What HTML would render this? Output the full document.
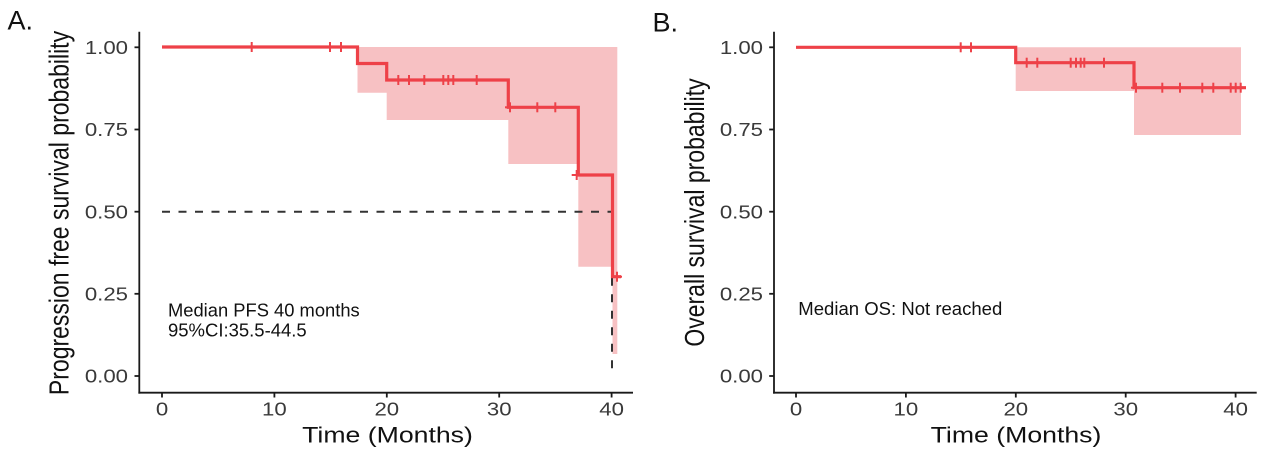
<!DOCTYPE html>
<html>
<head>
<meta charset="utf-8">
<style>
  html,body{margin:0;padding:0;background:#fff;}
  svg{display:block;}
  text{font-family:"Liberation Sans",Arial,sans-serif;}
</style>
</head>
<body>
<svg width="1266" height="457" viewBox="0 0 1266 457" xmlns="http://www.w3.org/2000/svg">
  <rect width="1266" height="457" fill="#fff"/>

  <!-- ================= Panel A ================= -->
  <text x="7.5" y="29.3" font-size="27" fill="#111">A.</text>

  <!-- CI band -->
  <path d="M357.5,47 H617.3 V354 H612.5 V266.7 H578.3 V164 H508.3 V120 H386.7 V92.7 H357.5 Z" fill="#f7c1c3"/>

  <!-- median dashed lines -->
  <g stroke="#333" stroke-width="2" stroke-dasharray="8 8.5" fill="none">
    <line x1="162" y1="211.7" x2="612" y2="211.7"/>
    <line x1="612" y1="211.7" x2="612" y2="376"/>
  </g>

  <!-- KM curve -->
  <path d="M162,47 H357.5 V63.5 H386.7 V80 H508.3 V107.3 H578.3 V175 H612.5 V276.7 H621" fill="none" stroke="#ee4148" stroke-width="3.2" stroke-linejoin="miter"/>

  <!-- censor marks A -->
  <g stroke="#ee4148" stroke-width="2">
    <line x1="251.7" y1="42" x2="251.7" y2="52"/>
    <line x1="330" y1="42" x2="330" y2="52"/>
    <line x1="341" y1="42" x2="341" y2="52"/>
    <line x1="398.3" y1="75" x2="398.3" y2="85"/>
    <line x1="409" y1="75" x2="409" y2="85"/>
    <line x1="424.3" y1="75" x2="424.3" y2="85"/>
    <line x1="443.3" y1="75" x2="443.3" y2="85"/>
    <line x1="448.3" y1="75" x2="448.3" y2="85"/>
    <line x1="453.3" y1="75" x2="453.3" y2="85"/>
    <line x1="476.7" y1="75" x2="476.7" y2="85"/>
    <line x1="510" y1="102.3" x2="510" y2="112.3"/>
    <line x1="505" y1="107.3" x2="515" y2="107.3"/>
    <line x1="537.3" y1="102.3" x2="537.3" y2="112.3"/>
    <line x1="555.3" y1="102.3" x2="555.3" y2="112.3"/>
    <line x1="576.7" y1="170" x2="576.7" y2="180"/>
    <line x1="571.7" y1="175" x2="581.7" y2="175"/>
    <line x1="617" y1="271.7" x2="617" y2="281.7"/>
    <line x1="612" y1="276.7" x2="622" y2="276.7"/>
  </g>

  <!-- axes A -->
  <g stroke="#1a1a1a" stroke-width="1.8" fill="none">
    <line x1="139.3" y1="31.7" x2="139.3" y2="393.6"/>
    <line x1="138.4" y1="392.7" x2="633" y2="392.7"/>
    <line x1="134.5" y1="47.3" x2="139.3" y2="47.3"/>
    <line x1="134.5" y1="129.5" x2="139.3" y2="129.5"/>
    <line x1="134.5" y1="211.7" x2="139.3" y2="211.7"/>
    <line x1="134.5" y1="293.8" x2="139.3" y2="293.8"/>
    <line x1="134.5" y1="376" x2="139.3" y2="376"/>
    <line x1="162" y1="392.7" x2="162" y2="397.5"/>
    <line x1="274.4" y1="392.7" x2="274.4" y2="397.5"/>
    <line x1="386.8" y1="392.7" x2="386.8" y2="397.5"/>
    <line x1="499.2" y1="392.7" x2="499.2" y2="397.5"/>
    <line x1="611.6" y1="392.7" x2="611.6" y2="397.5"/>
  </g>

  <!-- tick labels A -->
  <g font-size="18.5" fill="#3a3a3a">
    <text transform="translate(128,54) scale(1.2,1)" text-anchor="end">1.00</text>
    <text transform="translate(128,136.2) scale(1.2,1)" text-anchor="end">0.75</text>
    <text transform="translate(128,218.4) scale(1.2,1)" text-anchor="end">0.50</text>
    <text transform="translate(128,300.5) scale(1.2,1)" text-anchor="end">0.25</text>
    <text transform="translate(128,382.7) scale(1.2,1)" text-anchor="end">0.00</text>
    <text transform="translate(162,415.7) scale(1.2,1)" text-anchor="middle">0</text>
    <text transform="translate(274.4,415.7) scale(1.2,1)" text-anchor="middle">10</text>
    <text transform="translate(386.8,415.7) scale(1.2,1)" text-anchor="middle">20</text>
    <text transform="translate(499.2,415.7) scale(1.2,1)" text-anchor="middle">30</text>
    <text transform="translate(611.6,415.7) scale(1.2,1)" text-anchor="middle">40</text>
  </g>

  <!-- axis titles A -->
  <text transform="translate(387.5,442.7) scale(1.19,1)" text-anchor="middle" font-size="22.4" fill="#111">Time (Months)</text>
  <text transform="translate(68.5,213) scale(1.19,1) rotate(-90)" text-anchor="middle" font-size="23" fill="#111">Progression free survival probability</text>

  <!-- annotation A -->
  <text x="168" y="316.7" font-size="18.5" fill="#111" textLength="191.7" lengthAdjust="spacingAndGlyphs">Median PFS 40 months</text>
  <text x="168" y="336.7" font-size="18.5" fill="#111" textLength="138.7" lengthAdjust="spacingAndGlyphs">95%CI:35.5-44.5</text>

  <!-- ================= Panel B ================= -->
  <text x="652.5" y="31.5" font-size="27" fill="#111">B.</text>

  <!-- CI band B -->
  <path d="M1015.7,47.3 H1241 V135 H1134 V91 H1015.7 Z" fill="#f7c1c3"/>

  <!-- KM curve B -->
  <path d="M796,47.3 H1015.7 V62.7 H1134 V87.7 H1246" fill="none" stroke="#ee4148" stroke-width="3.2"/>

  <!-- censor marks B -->
  <g stroke="#ee4148" stroke-width="2">
    <line x1="960.7" y1="42.3" x2="960.7" y2="52.3"/>
    <line x1="971" y1="42.3" x2="971" y2="52.3"/>
    <line x1="1026.7" y1="57.7" x2="1026.7" y2="67.7"/>
    <line x1="1037.3" y1="57.7" x2="1037.3" y2="67.7"/>
    <line x1="1070.7" y1="57.7" x2="1070.7" y2="67.7"/>
    <line x1="1076" y1="57.7" x2="1076" y2="67.7"/>
    <line x1="1080.7" y1="57.7" x2="1080.7" y2="67.7"/>
    <line x1="1084.3" y1="57.7" x2="1084.3" y2="67.7"/>
    <line x1="1104" y1="57.7" x2="1104" y2="67.7"/>
    <line x1="1136" y1="82.7" x2="1136" y2="92.7"/>
    <line x1="1131" y1="87.7" x2="1141" y2="87.7"/>
    <line x1="1162.3" y1="82.7" x2="1162.3" y2="92.7"/>
    <line x1="1180" y1="82.7" x2="1180" y2="92.7"/>
    <line x1="1202.3" y1="82.7" x2="1202.3" y2="92.7"/>
    <line x1="1213.3" y1="82.7" x2="1213.3" y2="92.7"/>
    <line x1="1230.7" y1="82.7" x2="1230.7" y2="92.7"/>
    <line x1="1235.7" y1="82.7" x2="1235.7" y2="92.7"/>
    <line x1="1240.7" y1="82.7" x2="1240.7" y2="92.7"/>
  </g>

  <!-- axes B -->
  <g stroke="#1a1a1a" stroke-width="1.8" fill="none">
    <line x1="774" y1="31.7" x2="774" y2="393.6"/>
    <line x1="773.1" y1="392.7" x2="1256.7" y2="392.7"/>
    <line x1="769.2" y1="47.3" x2="774" y2="47.3"/>
    <line x1="769.2" y1="129.5" x2="774" y2="129.5"/>
    <line x1="769.2" y1="211.7" x2="774" y2="211.7"/>
    <line x1="769.2" y1="293.8" x2="774" y2="293.8"/>
    <line x1="769.2" y1="376" x2="774" y2="376"/>
    <line x1="796" y1="392.7" x2="796" y2="397.5"/>
    <line x1="905.9" y1="392.7" x2="905.9" y2="397.5"/>
    <line x1="1015.8" y1="392.7" x2="1015.8" y2="397.5"/>
    <line x1="1125.7" y1="392.7" x2="1125.7" y2="397.5"/>
    <line x1="1235.6" y1="392.7" x2="1235.6" y2="397.5"/>
  </g>

  <!-- tick labels B -->
  <g font-size="18.5" fill="#3a3a3a">
    <text transform="translate(763,54) scale(1.2,1)" text-anchor="end">1.00</text>
    <text transform="translate(763,136.2) scale(1.2,1)" text-anchor="end">0.75</text>
    <text transform="translate(763,218.4) scale(1.2,1)" text-anchor="end">0.50</text>
    <text transform="translate(763,300.5) scale(1.2,1)" text-anchor="end">0.25</text>
    <text transform="translate(763,382.7) scale(1.2,1)" text-anchor="end">0.00</text>
    <text transform="translate(796,415.7) scale(1.2,1)" text-anchor="middle">0</text>
    <text transform="translate(905.9,415.7) scale(1.2,1)" text-anchor="middle">10</text>
    <text transform="translate(1015.8,415.7) scale(1.2,1)" text-anchor="middle">20</text>
    <text transform="translate(1125.7,415.7) scale(1.2,1)" text-anchor="middle">30</text>
    <text transform="translate(1235.6,415.7) scale(1.2,1)" text-anchor="middle">40</text>
  </g>

  <!-- axis titles B -->
  <text transform="translate(1016,442.7) scale(1.19,1)" text-anchor="middle" font-size="22.4" fill="#111">Time (Months)</text>
  <text transform="translate(704,212.5) scale(1.19,1) rotate(-90)" text-anchor="middle" font-size="23" fill="#111">Overall survival probability</text>

  <!-- annotation B -->
  <text x="798.3" y="315" font-size="18.5" fill="#111" textLength="204" lengthAdjust="spacingAndGlyphs">Median OS: Not reached</text>
</svg>
</body>
</html>
